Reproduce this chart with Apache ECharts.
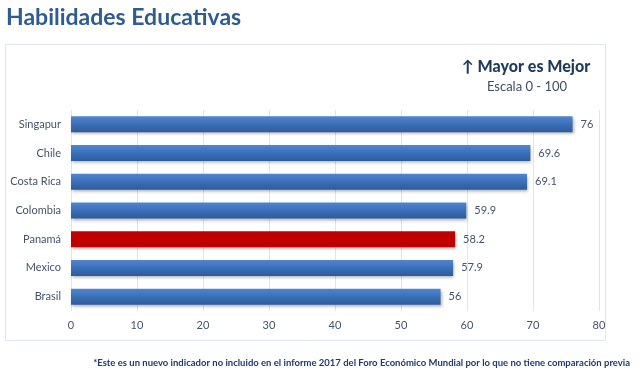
<!DOCTYPE html>
<html><head><meta charset="utf-8">
<script src="https://cdn.jsdelivr.net/npm/echarts@6/dist/echarts.min.js"></script>
<style>html,body{margin:0;padding:0;background:#fff}#c{width:640px;height:374px}</style>
</head><body><div id="c"></div>
<script>
const categories = ['Singapur','Chile','Costa Rica','Colombia','Panamá','Mexico','Brasil'];
const values = [76, 69.6, 69.1, 59.9, 58.2, 57.9, 56];
const highlight = 'Panamá';
const xTicks = [0,10,20,30,40,50,60,70,80];

const FONT = 'Lato, "Open Sans", sans-serif';
const blueGrad = new echarts.graphic.LinearGradient(0,0,0,1,[
  {offset:0,color:'#4f86cf'},{offset:0.5,color:'#3c6fb8'},{offset:1,color:'#2d5c9c'}]);
const chart = echarts.init(document.getElementById('c'), null, {renderer:'canvas'});
chart.setOption({
  animation:false,
  graphic:[
    {type:'rect', shape:{x:5.5,y:44.5,width:600,height:296}, style:{fill:'none',stroke:'#dde6f1',lineWidth:1}},
    {type:'text', x:6, y:18, style:{text:'Habilidades Educativas', font:'bold 23px '+FONT, fill:'#2e5c92', verticalAlign:'middle'}},
    {type:'text', x:526, y:67, style:{text:'↑ Mayor es Mejor', font:'900 16px '+FONT, fill:'#1f3a5f', align:'center', verticalAlign:'middle'}},
    {type:'text', x:527, y:87, style:{text:'Escala 0 - 100', font:'13px '+FONT, fill:'#3d4f66', align:'center', verticalAlign:'middle'}},
    {type:'text', x:630, y:363, style:{text:'*Este es un nuevo indicador no incluido en el informe 2017 del Foro Económico Mundial por lo que no tiene comparación previa', font:'bold 9.5px '+FONT, fill:'#1f3a6b', align:'right', verticalAlign:'middle'}}
  ],
  grid:{left:71, right:41, top:110, bottom:63, containLabel:false},
  xAxis:{type:'value', min:0, max:80, interval:10,
    axisLine:{show:false}, axisTick:{show:false},
    splitLine:{lineStyle:{color:'#dbe5f1',width:1}},
    axisLabel:{color:'#44546a', fontFamily:FONT, fontSize:11, margin:9,
      formatter:v=>xTicks.includes(v)?String(v):''}},
  yAxis:{type:'category', data:categories, inverse:true,
    axisLine:{show:false}, axisTick:{show:false},
    axisLabel:{color:'#44546a', fontFamily:FONT, fontSize:11, margin:10}},
  series:[{type:'bar', barWidth:16,
    data:values.map((v,i)=>({value:v, itemStyle:{color: categories[i]===highlight ? '#c00000' : blueGrad}})),
    itemStyle:{shadowColor:'rgba(0,0,0,0.3)', shadowBlur:3, shadowOffsetX:1, shadowOffsetY:2},
    label:{show:true, position:'right', distance:8, color:'#44546a', fontFamily:FONT, fontSize:11}
  }]
});
</script></body></html>
